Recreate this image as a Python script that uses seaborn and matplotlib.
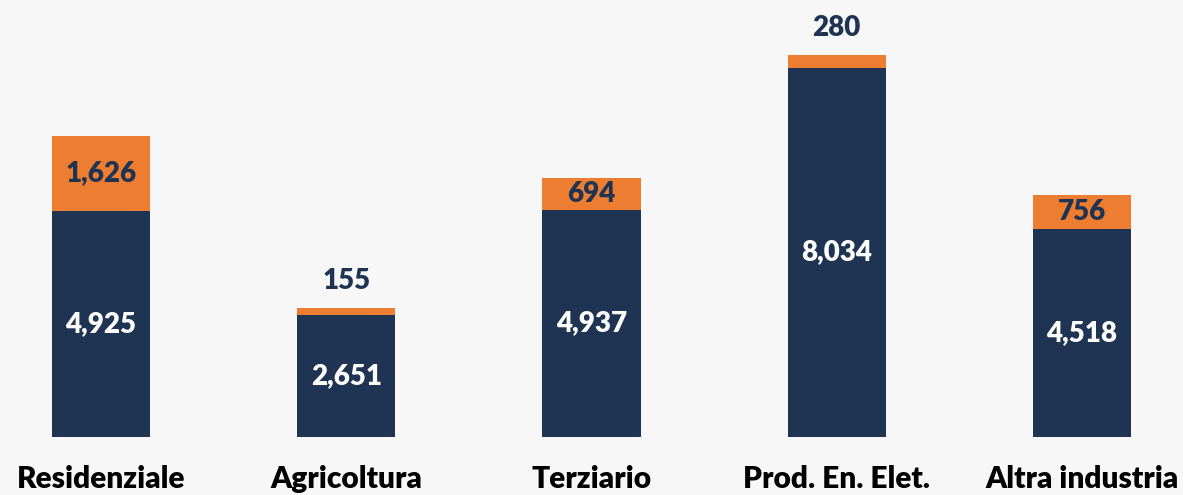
# consumi per settore - barre impilate
import pandas as pd
import matplotlib
matplotlib.use('Agg')
import matplotlib.pyplot as plt
import seaborn as sns

settori = ['Residenziale', 'Agricoltura', 'Terziario', 'Prod. En. Elet.', 'Altra industria']
base = [4925, 2651, 4937, 8034, 4518]
extra = [1626, 155, 694, 280, 756]

navy = '#1F3352'
orange = '#ED7D31'
bg = '#F7F7F7'

df = pd.DataFrame({'settore': settori, 'base': base, 'extra': extra})
df['totale'] = df['base'] + df['extra']

sns.set_theme(style='white')
plt.rcParams['font.family'] = ['Lato', 'DejaVu Sans']

fig = plt.figure(figsize=(11.83, 4.95), dpi=100, facecolor=bg)
ax = fig.add_axes([0, 58 / 495, 1, 437 / 495])
ax.set_facecolor(bg)

# totale in arancione sotto, base in blu sopra
sns.barplot(data=df, x='settore', y='totale', color=orange, width=0.4,
            saturation=1, linewidth=0, ax=ax)
sns.barplot(data=df, x='settore', y='base', color=navy, width=0.4,
            saturation=1, linewidth=0, ax=ax)

ax.set_xlim(-0.412, 4.412)
ax.set_ylim(0, 9510)
ax.set_yticks([])
ax.set_xlabel('')
ax.set_ylabel('')
for s in ax.spines.values():
    s.set_visible(False)
ax.tick_params(axis='x', length=0, pad=20)
for lab in ax.get_xticklabels():
    lab.set_fontsize(21.5)
    lab.set_fontweight('heavy')
    lab.set_color('black')

for i, row in df.iterrows():
    ax.text(i, row['base'] / 2, f"{row['base']:,}", ha='center', va='center',
            color='white', fontsize=20, fontweight='heavy')
    if row['extra'] > 500:
        y = row['base'] + row['extra'] / 2
    else:
        y = row['totale'] + 580
    ax.text(i, y, f"{row['extra']:,}", ha='center', va='center',
            color=navy, fontsize=20, fontweight='heavy')

plt.savefig('out.png', dpi=100, facecolor=bg)
